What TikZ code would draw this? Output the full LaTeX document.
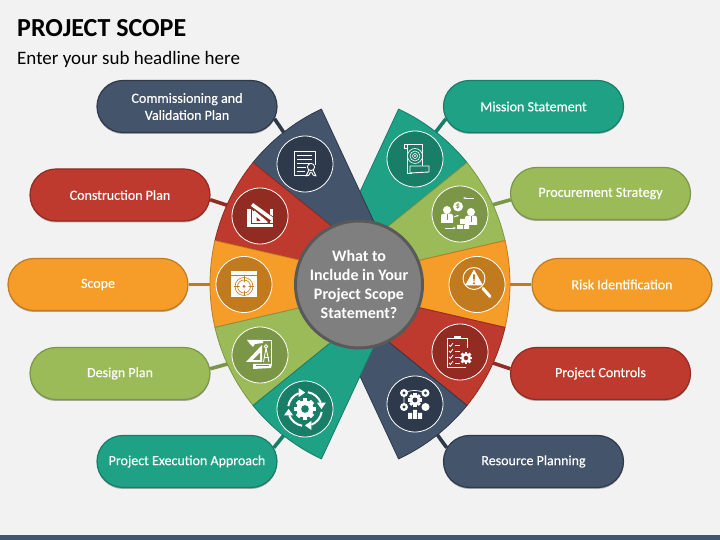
\documentclass[tikz,border=0pt]{standalone}
\usepackage{fontspec}
\setmainfont{Carlito}
\usetikzlibrary{backgrounds, shadows, shapes.misc, arrows.meta}
\definecolor{PageGrey}{RGB}{242, 242, 242}
\definecolor{HubGrey}{RGB}{127, 127, 127}
\definecolor{HubEdge}{RGB}{89, 89, 89}
\definecolor{NavyFill}{RGB}{68, 84, 106}
\definecolor{NavyDark}{RGB}{46, 58, 76}
\definecolor{RedFill}{RGB}{190, 57, 46}
\definecolor{RedDark}{RGB}{146, 43, 34}
\definecolor{OrangeFill}{RGB}{245, 157, 40}
\definecolor{OrangeDark}{RGB}{194, 122, 30}
\definecolor{GreenFill}{RGB}{155, 187, 89}
\definecolor{GreenDark}{RGB}{124, 150, 71}
\definecolor{TealFill}{RGB}{30, 161, 133}
\definecolor{TealDark}{RGB}{24, 126, 104}

\tikzset{
  pillbox/.style 2 args={rounded rectangle, minimum width=180pt, minimum height=52pt, inner sep=0pt,
    fill=#1, draw=#2, line width=1.2pt, text=white, align=center,
    font=\fontsize{14}{17}\selectfont\addfontfeature{FakeBold=0.3},
    drop shadow={shadow xshift=0pt, shadow yshift=-1.5pt, opacity=.3, fill=black}},
  iconbase/.style={circle, minimum size=56pt, inner sep=0pt, fill=#1, draw=white, line width=.8pt},
  link/.style={draw=#1, line width=3.6pt},
  slice/.style 2 args={fill=#1, draw=#2, line width=.8pt, line join=round},
  glyph/.style={draw=white, line width=.9pt, line join=round}
}

% gear: x, y, radius, colour of the hole
\newcommand{\geartoothed}[4]{%
  \foreach \t in {0,45,...,315} {\fill[white, shift={(#1,#2)}, rotate=\t] (-.28*#3,.7*#3) rectangle (.28*#3,1.25*#3);}
  \fill[white] (#1,#2) circle[radius=#3];
  \fill[#4] (#1,#2) circle[radius=.45*#3];
}
% head and shoulders of a person
\newcommand{\persona}[2]{%
  \fill[white] (#1,#2+5) circle[radius=4];
  \fill[white] (#1-6,#2-8) -- (#1-6,#2-1) to[out=90,in=180] (#1,#2+1.5) to[out=0,in=90] (#1+6,#2-1) -- (#1+6,#2-8) -- cycle;
  \draw[GreenDark, line width=.8pt] (#1,#2+1) -- (#1,#2-5);
}

\begin{document}
\begin{tikzpicture}[x=1pt, y=1pt]
  \useasboundingbox (0,0) rectangle (720,540);

  % titles
  \node[anchor=west, inner sep=0pt, font=\fontsize{26}{31}\selectfont\bfseries] (title) at (17,512) {PROJECT SCOPE};
  \node[anchor=west, inner sep=0pt, font=\fontsize{19}{23}\selectfont] (subtitle) at (17,481) {Enter your sub headline here};

  % pills on the left
  \node[pillbox={NavyFill}{NavyDark}] (commission) at (187,433.5) {Commissioning and\\Validation Plan};
  \node[pillbox={RedFill}{RedDark}] (construction) at (120,345) {Construction Plan};
  \node[pillbox={OrangeFill}{OrangeDark}] (scope) at (98,255.5) {Scope};
  \node[pillbox={GreenFill}{GreenDark}] (design) at (120,166.5) {Design Plan};
  \node[pillbox={TealFill}{TealDark}] (execution) at (187,78.5) {Project Execution Approach};

  % pills on the right
  \node[pillbox={TealFill}{TealDark}] (mission) at (533.5,433.5) {Mission Statement};
  \node[pillbox={GreenFill}{GreenDark}] (procurement) at (600.5,346.5) {Procurement Strategy};
  \node[pillbox={OrangeFill}{OrangeDark}] (risk) at (622,255.5) {Risk Identification};
  \node[pillbox={RedFill}{RedDark}] (controls) at (600.5,166.5) {Project Controls};
  \node[pillbox={NavyFill}{NavyDark}] (resource) at (533.5,78.5) {Resource Planning};

  % icon discs
  \node[iconbase=NavyDark] (certicon) at (305,376) {};
  \node[iconbase=RedDark] (plannicon) at (260,324) {};
  \node[iconbase=OrangeDark] (scopeicon) at (244,255.5) {};
  \node[iconbase=GreenDark] (drawicon) at (260,185) {};
  \node[iconbase=TealDark] (cycleicon) at (305,131) {};
  \node[iconbase=TealDark] (scrollicon) at (415,381) {};
  \node[iconbase=GreenDark] (buyicon) at (460,326) {};
  \node[iconbase=OrangeDark] (alerticon) at (477,255.5) {};
  \node[iconbase=RedDark] (checkicon) at (460,188) {};
  \node[iconbase=NavyDark] (teamicon) at (415,136) {};

  % hub
  \node[circle, minimum size=127pt, inner sep=0pt, fill=HubGrey, draw=HubEdge, line width=3pt,
        text=white, align=center, font=\fontsize{16}{19}\selectfont\bfseries] (hub) at (359,255.5)
        {What to\\Include in Your\\Project Scope\\Statement?};

  \begin{scope}[on background layer]
    \fill[PageGrey] (0,0) rectangle (720,540);
    \fill[NavyFill] (0,0) rectangle (720,5);

    \draw[link=NavyDark] (commission.-8) -- (certicon);
    \draw[link=RedDark] (construction.-3) -- (plannicon);
    \draw[link=OrangeDark] (scope.east) -- (scopeicon);
    \draw[link=GreenDark] (design.3) -- (drawicon);
    \draw[link=TealDark] (execution.9) -- (cycleicon);
    \draw[link=TealDark] (mission.188) -- (scrollicon);
    \draw[link=GreenDark] (procurement.184) -- (buyicon);
    \draw[link=OrangeDark] (risk.west) -- (alerticon);
    \draw[link=RedDark] (controls.177) -- (checkicon);
    \draw[link=NavyDark] (resource.171) -- (teamicon);

    % right half goes under the left half
    \foreach \a/\fillc/\edgec in {39/TealFill/TealDark, 13/GreenFill/GreenDark, -13/OrangeFill/OrangeDark, -39/RedFill/RedDark, -65/NavyFill/NavyDark}
      \draw[slice={\fillc}{\edgec}] (317,256) -- ++(\a+26:193) arc[start angle=\a+26, end angle=\a, radius=193] -- cycle;
    \foreach \a/\fillc/\edgec in {115/NavyFill/NavyDark, 141/RedFill/RedDark, 167/OrangeFill/OrangeDark, 193/GreenFill/GreenDark, 219/TealFill/TealDark}
      \draw[slice={\fillc}{\edgec}] (403,256) -- ++(\a:193) arc[start angle=\a, end angle=\a+26, radius=193] -- cycle;
  \end{scope}

  % certificate
  \begin{scope}[shift={(certicon)}]
    \draw[glyph] (4,-11) -- (-11,-11) -- (-11,13) -- (10,13) -- (10,-1);
    \draw[glyph] (-8,9) -- (7,9) (-8,5) -- (7,5) (-8,1) -- (5,1) (-8,-3) -- (1,-3) (-8,-7) -- (0,-7);
    \draw[glyph] (6,-3) circle[radius=3.6];
    \draw[glyph] (4,-6) -- (1,-12) -- (4,-11) -- (5.5,-8) (8,-6) -- (11,-12) -- (8,-11) -- (6.5,-8);
  \end{scope}

  % set square on a rolled plan
  \begin{scope}[shift={(plannicon)}]
    \fill[white] (-13,-11) rectangle (13,7);
    \draw[RedDark, line width=.8pt] (-9,7) -- (-9,-7.5) -- (13,-7.5) (9,7) -- (9,-7.5);
    \fill[RedDark] (-9,7) -- (9,7) -- (9,-7.5) -- cycle;
    \fill[RedDark] (-3.5,-5) -- (0.5,-5) -- (-3.5,-1) -- cycle;
    \draw[RedDark, line width=5.2pt] (-8,11.5) -- (12,-3);
    \draw[white, line width=3.6pt] (-8,11.5) -- (12,-3);
    \draw[white, line width=1.2pt] (-6,5) -- (7,-6);
    \fill[RedDark] (13,7.5) rectangle (14,-7);
  \end{scope}

  % target on a square card
  \begin{scope}[shift={(scopeicon)}]
    \fill[white] (-13,-13) rectangle (13,13);
    \draw[OrangeDark, line width=.7pt] (-13,9) -- (13,9);
    \draw[OrangeDark, line width=.6pt] (0,-2) circle[radius=9] (0,-2) circle[radius=6.5];
    \draw[OrangeDark, line width=.5pt] (0,-12) -- (0,8) (-10,-2) -- (10,-2);
    \fill[white] (0,-2) circle[radius=4.5];
    \fill[OrangeDark] (0,-2) circle[radius=1.5];
  \end{scope}

  % drawing tools on a scroll
  \begin{scope}[shift={(drawicon)}]
    \fill[white] (-13,15) -- (3,15) -- (3,12) -- (-5,11) -- (-7,8) -- (-10,11) -- cycle;
    \draw[white, line width=.8pt] (3,15) -- (11,15) -- (11,-9);
    \fill[white] (2,10) -- (2,-7) -- (-14,-7) -- cycle;
    \fill[GreenDark] (0,2) -- (0,-5) -- (-7,-5) -- cycle;
    \draw[white, line width=.9pt] (6,7) -- (3.5,-7) (6,7) -- (9,-7);
    \draw[white, line width=.9pt] (6,8.5) circle[radius=1.8];
    \draw[white, line width=.7pt] (4,-2) -- (8.5,-2);
    \fill[white] (-7,-9) -- (12,-9) -- (11,-13) -- (-7,-14) -- cycle;
    \fill[GreenDark] (-4,-10.5) rectangle (9,-11.5);
  \end{scope}

  % gear inside four arrows
  \begin{scope}[shift={(cycleicon)}]
    \geartoothed{0}{0}{8.5}{TealDark}
    \foreach \r in {0,90,180,270} {
      \draw[white, line width=2pt, rotate=\r] (80:17) arc[start angle=80, end angle=22, radius=17];
      \fill[white, rotate=\r] (15:17) ++(-4.5,2) -- ++(9,0) -- ++(-4.5,-6.5) -- cycle;
    }
  \end{scope}

  % scroll with a target
  \begin{scope}[shift={(scrollicon)}]
    \draw[glyph] (-11,11) -- (-11,15) -- (7,15) -- (7,-7) (-11,11) -- (-8,11) -- (-8,15) (-8,11) -- (-8,-14) -- (-3,-14);
    \draw[glyph] (-5,-7) -- (14,-7) -- (14,-13) -- (-5,-14) -- cycle;
    \draw[white, line width=.6pt] (0,3) circle[radius=7.5] (0,3) circle[radius=5] (0,3) circle[radius=2.5];
    \fill[white] (0,3) circle[radius=1];
  \end{scope}

  % buyer and seller
  \begin{scope}[shift={(buyicon)}]
    \persona{-13}{-1}
    \persona{11}{-3}
    \fill[white] (-2,7.5) circle[radius=5];
    \node[inner sep=0pt, text=GreenDark, font=\fontsize{8}{8}\selectfont\bfseries] (dollar) at (-2,7.5) {\$};
    \draw[white, line width=.8pt, -{Stealth[length=3pt]}] (14,16) -- (3,16);
    \draw[white, line width=.8pt, -{Stealth[length=3pt]}] (-15,-14) -- (-4,-14);
    \draw[white, line width=.8pt, -{Stealth[length=3pt]}] (-6,-3) -- (-1,-1);
    \fill[white] (-3,-15) rectangle (3,-11) (4,-15) rectangle (9,-11) (0,-10) rectangle (6,-5);
  \end{scope}

  % warning under a magnifier
  \begin{scope}[shift={(alerticon)}]
    \draw[white, line width=.9pt] (-3,6) circle[radius=11];
    \fill[white, line join=round] (-3,15) -- (-12,-1) -- (6,-1) -- cycle;
    \fill[OrangeDark] (-4,10) -- (-2,10) -- (-2.4,3) -- (-3.6,3) -- cycle;
    \fill[OrangeDark] (-3,1.2) circle[radius=1.2];
    \draw[white, line width=3pt, line cap=round] (6,-4) -- (13,-12);
  \end{scope}

  % checklist with a gear
  \begin{scope}[shift={(checkicon)}]
    \draw[glyph] (6,-15) -- (-13,-15) -- (-13,14) -- (7,14) -- (7,4);
    \fill[white] (-6,13) rectangle (1,16);
    \foreach \yy in {7,1,-5,-11} {
      \draw[white, line width=.8pt] (-11,\yy) -- (-9.5,\yy-1.5) -- (-7,\yy+2);
      \draw[white, line width=.8pt] (-5,\yy) -- (0,\yy);
    }
    \geartoothed{6}{-6}{5}{RedDark}
  \end{scope}

  % people, gear and podium
  \begin{scope}[shift={(teamicon)}]
    \geartoothed{0}{4}{5.5}{NavyDark}
    \draw[white, line width=.7pt] (-11,11) to[bend left=25] (10,11) (-11,8) -- (-11,-2);
    \fill[white] (-11,11) circle[radius=4] (10.5,11) circle[radius=4] (-11,-3) circle[radius=4];
    \fill[white] (10.5,-3) circle[radius=4];
    \fill[NavyDark] (-11,11) circle[radius=1.6] (10.5,11) circle[radius=1.6] (-11,-3) circle[radius=1.6];
    \fill[white] (-7,-15) rectangle (-3,-9) (-2,-15) rectangle (2,-6) (3,-15) rectangle (7,-9);
  \end{scope}
\end{tikzpicture}
\end{document}
